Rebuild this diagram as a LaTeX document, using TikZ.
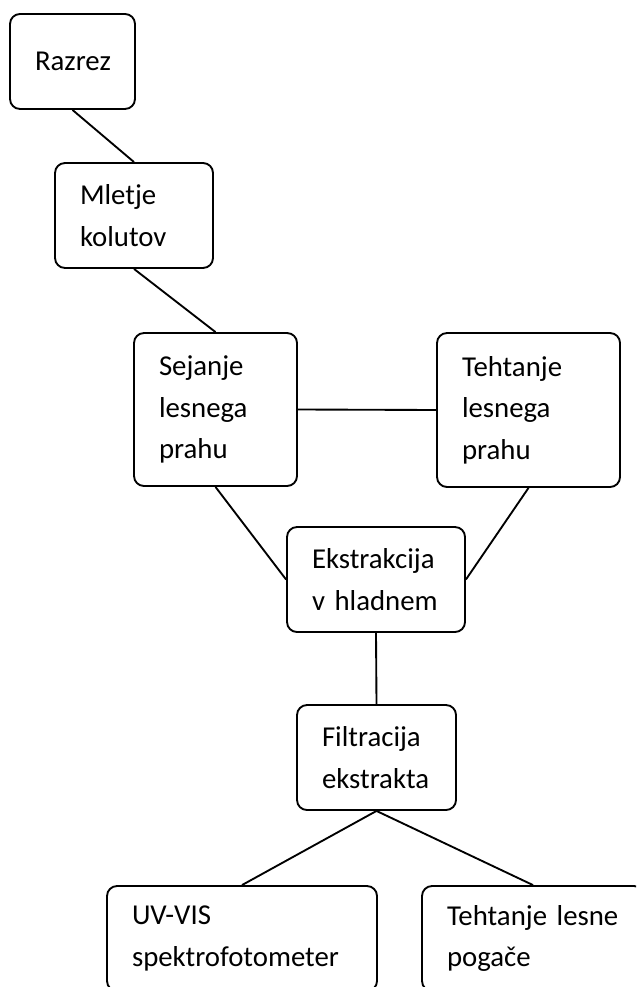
\documentclass[tikz,border=0pt]{standalone}
\usepackage{fontspec}
\setmainfont{Carlito}
\begin{document}
\begin{tikzpicture}[x=0.75pt, y=-0.75pt, line width=1.4pt,
        main/.style = {draw, rectangle, rounded corners=7.5pt, align=left, inner xsep=18.75pt, inner ysep=0pt,
            font=\fontsize{21.6pt}{31pt}\selectfont}]
        \path[use as bounding box, clip] (0,0) rectangle (636,987);
        \node[main, align=center, text width=56.25pt, minimum height=71.25pt] (1) at (72.5,61.5) {Razrez};
        \node[main, text width=81pt, minimum height=78.75pt] (2) at (134,215.5) {Mletje\\kolutov};
        \node[main, text width=84.75pt, minimum height=114.75pt] (3) at (215.5,409.5) {Sejanje\\lesnega\\prahu};
        \node[main, text width=99.75pt, minimum height=115.5pt] (4) at (528.5,410) {Tehtanje\\lesnega\\prahu};
        \node[main, text width=96pt, minimum height=78.75pt] (5) at (376,579.5) {Ekstrakcija\\v hladnem};
        \node[main, text width=81.75pt, minimum height=78.75pt] (6) at (376.5,757.5) {Filtracija\\ekstrakta};
        \node[main, text width=165pt, minimum height=78.75pt] (7) at (242,938.5) {UV-VIS\\spektrofotometer};
        \node[main, text width=129pt, minimum height=78.75pt] (8) at (533,938.5) {Tehtanje lesne\\pogače};
        \draw (1.south) -- (2.north);
        \draw (2.south) -- (3.north);
        \draw (3.east) -- (4.west);
        \draw (3.south) -- (5.west);
        \draw (4.south) -- (5.east);
        \draw (5.south) -- (6.north);
        \draw (6.south) -- (7.north);
        \draw (6.south) -- (8.north);
    \end{tikzpicture}
\end{document}
